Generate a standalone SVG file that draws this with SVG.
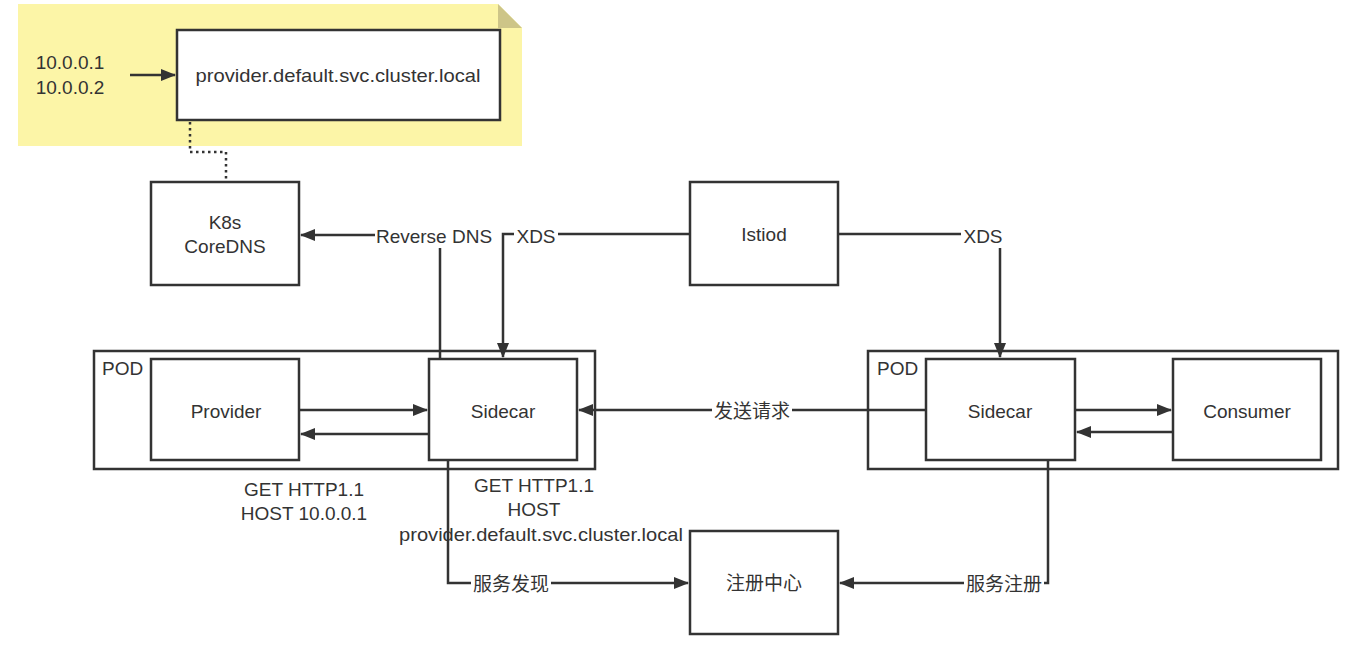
<svg xmlns="http://www.w3.org/2000/svg" width="1350" height="646" viewBox="0 0 1350 646">
<defs>
<style>
.box{fill:#fff;stroke:#333;stroke-width:2.5}
.pod{fill:none;stroke:#333;stroke-width:2.5}
.ln{fill:none;stroke:#333;stroke-width:2.5}
.dot{fill:none;stroke:#333;stroke-width:2.5;stroke-dasharray:2.5 3.5}
text{font-family:"Liberation Sans","Noto Sans CJK SC",sans-serif;font-size:19px;fill:#333}
.c{text-anchor:middle}
.lbl{fill:#fff;stroke:none}
</style>
<marker id="ah" markerWidth="16" markerHeight="12" refX="14" refY="6" orient="auto" markerUnits="userSpaceOnUse">
<path d="M0,0 L15,6 L0,12 Z" fill="#333"/>
</marker>
</defs>
<rect width="1350" height="646" fill="#fff"/>
<g id="note">
<path d="M18,4 H498 L522,28 V146 H18 Z" fill="#fcf5a7"/>
<path d="M498,4 L522,28 H498 Z" fill="#cdc588"/>
</g>
<g id="dns-name">
<rect class="box" x="177" y="30" width="323" height="90"/>
<text class="c" x="338" y="82" textLength="285" lengthAdjust="spacingAndGlyphs">provider.default.svc.cluster.local</text>
</g>
<g id="ips">
<text class="c" x="70" y="69">10.0.0.1</text>
<text class="c" x="70" y="94">10.0.0.2</text>
</g>
<g id="coredns">
<rect class="box" x="151" y="182" width="148" height="103"/>
<text class="c" x="225" y="229">K8s</text>
<text class="c" x="225" y="253">CoreDNS</text>
</g>
<g id="istiod">
<rect class="box" x="690" y="182" width="148" height="103"/>
<text class="c" x="764" y="241">Istiod</text>
</g>
<g id="pod-left">
<rect class="pod" x="94" y="351" width="501" height="118"/>
<text x="102" y="375">POD</text>
</g>
<g id="pod-right">
<rect class="pod" x="868" y="351" width="470" height="118"/>
<text x="877" y="375">POD</text>
</g>
<g id="provider">
<rect class="box" x="151" y="359" width="148" height="101"/>
<text class="c" x="226" y="418">Provider</text>
</g>
<g id="sidecar-left">
<rect class="box" x="429" y="359" width="148" height="101"/>
<text class="c" x="503" y="418">Sidecar</text>
</g>
<g id="sidecar-right">
<rect class="box" x="926" y="359" width="149" height="101"/>
<text class="c" x="1000" y="418">Sidecar</text>
</g>
<g id="consumer">
<rect class="box" x="1173" y="359" width="148" height="101"/>
<text class="c" x="1247" y="418">Consumer</text>
</g>
<g id="registry">
<rect class="box" x="690" y="531" width="148" height="103"/>
<text class="c" x="764" y="590">注册中心</text>
</g>
<g id="connectors">
<path class="ln" d="M130,75 H175" marker-end="url(#ah)"/>
<path class="dot" d="M190,122 V152 H226 V182"/>
<path class="ln" d="M440,359 V235 H301" marker-end="url(#ah)"/>
<path class="ln" d="M690,234 H503 V357" marker-end="url(#ah)"/>
<path class="ln" d="M838,234 H1000 V357" marker-end="url(#ah)"/>
<path class="ln" d="M299,410 H427" marker-end="url(#ah)"/>
<path class="ln" d="M429,434 H301" marker-end="url(#ah)"/>
<path class="ln" d="M926,410 H579" marker-end="url(#ah)"/>
<path class="ln" d="M1075,410 H1171" marker-end="url(#ah)"/>
<path class="ln" d="M1173,432 H1077" marker-end="url(#ah)"/>
<path class="ln" d="M448,460 V583 H688" marker-end="url(#ah)"/>
<path class="ln" d="M1048,460 V583 H840" marker-end="url(#ah)"/>
</g>
<g id="connector-labels">
<rect class="lbl" x="375" y="223" width="118" height="25"/>
<text class="c" x="434" y="243">Reverse DNS</text>
<rect class="lbl" x="514" y="223" width="44" height="25"/>
<text class="c" x="536" y="243">XDS</text>
<rect class="lbl" x="961" y="223" width="44" height="25"/>
<text class="c" x="983" y="243">XDS</text>
<rect class="lbl" x="712" y="398" width="80" height="25"/>
<text class="c" x="752" y="418">发送请求</text>
<rect class="lbl" x="471" y="571" width="80" height="25"/>
<text class="c" x="511" y="591">服务发现</text>
<rect class="lbl" x="964" y="571" width="80" height="25"/>
<text class="c" x="1004" y="591">服务注册</text>
<text class="c" x="304" y="496">GET HTTP1.1</text>
<text class="c" x="304" y="520">HOST 10.0.0.1</text>
<text class="c" x="534" y="492">GET HTTP1.1</text>
<text class="c" x="534" y="516">HOST</text>
<text class="c" x="541" y="541" textLength="284" lengthAdjust="spacingAndGlyphs">provider.default.svc.cluster.local</text>
</g>
</svg>
